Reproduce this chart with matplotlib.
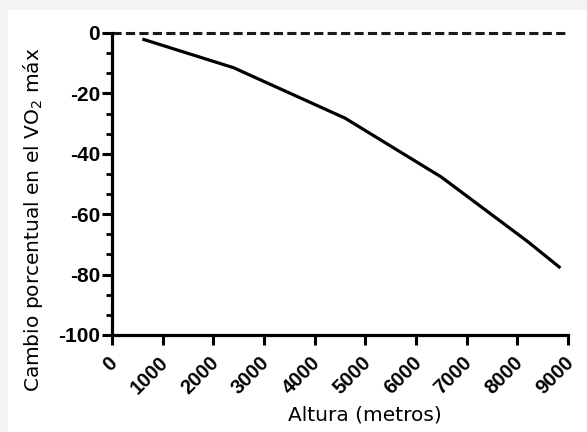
import matplotlib
matplotlib.use("Agg")
import matplotlib.pyplot as plt
from matplotlib.patches import Rectangle
from matplotlib.ticker import AutoMinorLocator
from matplotlib.transforms import ScaledTranslation

# altitude (m) vs. percent change in VO2 max
altura = [600, 2400, 4600, 6500, 8200, 8850]
cambio = [-2.0, -11.5, -28.2, -47.7, -69.0, -77.8]

xticks = [0, 1000, 2000, 3000, 4000, 5000, 6000, 7000, 8000, 9000]
yticks = [0, -20, -40, -60, -80, -100]

W, H = 587, 432
fig = plt.figure(figsize=(W / 100, H / 100), dpi=100, facecolor="#f3f3f3")
fig.patches.append(Rectangle((8 / W, 0), 1, (H - 10) / H, transform=fig.transFigure,
                             facecolor="white", edgecolor="none", zorder=-10))

ax = fig.add_axes([112 / W, 1 - 335 / H, (568 - 112) / W, (335 - 33) / H])
ax.set_facecolor("white")

ax.plot(altura, cambio, color="black", lw=2.3, solid_capstyle="butt", clip_on=False)
ax.plot([0, 9000], [0, 0], color="#1a1a1a", lw=2.2, ls=(0, (3.0, 1.4)), clip_on=False)

ax.set_xlim(0, 9000)
ax.set_ylim(-100, 0)
ax.set_xticks(xticks)
ax.set_yticks(yticks)
ax.yaxis.set_minor_locator(AutoMinorLocator(3))

for s in ["top", "right"]:
    ax.spines[s].set_visible(False)
for s in ["left", "bottom"]:
    ax.spines[s].set_linewidth(2.3)

ax.tick_params(axis="both", which="major", direction="out", length=7, width=2.2)
ax.tick_params(axis="y", which="major", pad=1.5)
ax.tick_params(axis="x", which="major", pad=6)
ax.tick_params(axis="y", which="minor", direction="out", length=4, width=2.0)

bold = dict(family="Liberation Sans", weight="bold")
ax.set_yticklabels([str(v) for v in yticks], fontsize=15, **bold)
ax.set_xticklabels([str(v) for v in xticks], rotation=45, ha="right", va="top",
                   rotation_mode="anchor", fontsize=14.5, **bold)
shift = ScaledTranslation(-3 / 72, 0, fig.dpi_scale_trans)
for lab in ax.get_xticklabels():
    lab.set_transform(lab.get_transform() + shift)

ax.set_xlabel("Altura (metros)", family="DejaVu Sans", fontsize=14.5, va="center")
ax.xaxis.set_label_coords(0.555, -0.265)
ax.set_ylabel("Cambio porcentual en el VO$_2$ máx", family="DejaVu Sans",
              fontsize=14.5, va="center")
ax.yaxis.set_label_coords(-0.173, 0.381)

fig.savefig("out.png", dpi=100, facecolor=fig.get_facecolor())
